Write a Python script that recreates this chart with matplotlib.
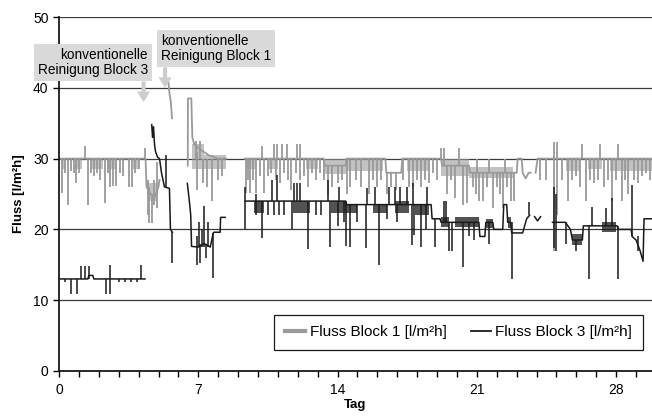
import matplotlib.pyplot as plt
import numpy as np
from matplotlib.ticker import MultipleLocator

plt.rcParams['font.family'] = ['Liberation Sans', 'DejaVu Sans']
plt.rcParams['font.size'] = 10

nan = np.nan

# Fluss Block 1 (grau): Grundverlauf, Ausreisser (Tag, von, bis), dichte Bereiche (von, bis, unten, oben)
b1_day = [0, 4.35, 4.4, 4.6, 4.8, 5.0, 5.05, nan, 5.5, 5.56, 5.62, 5.68, nan,
          6.47, 6.48, 6.65, 6.7, 6.8, 7.0, 7.5, 8.0, 8.4, nan,
          9.35, 13.3, 13.35, 14.4, 14.45, 16.4, 16.45, 17.2, 17.25, 19.2, 19.25, 20.6, 20.65,
          23.0, 23.05, 23.25, 23.3, 23.45, 23.6, 23.7, nan, 23.95, 24.05, 29.8]
b1_val = [30, 30, 26, 25, 24.5, 26, 27, nan, 40.8, 39, 38, 35.7, nan,
          29, 38.5, 38.5, 33, 32, 31.5, 30.5, 30, 30, nan,
          30, 30, 29, 29, 30, 30, 28, 28, 30, 30, 29, 29, 28,
          28, 30, 30, 28, 27.2, 28, 28, nan, 28, 30, 30]
b1_spikes = [(0.13, 25.1, 30), (0.3, 28, 30), (0.47, 23.4, 30), (0.6, 28.2, 30), (0.75, 28, 30),
             (0.85, 26.5, 30), (1.0, 28, 30), (1.3, 30, 31.8), (1.47, 23.4, 30), (1.6, 28, 30),
             (1.75, 27.5, 30), (1.9, 28, 30), (2.05, 27, 30), (2.3, 23.7, 30), (2.45, 28, 30),
             (2.55, 26, 30), (2.7, 26.1, 30), (2.85, 26.2, 30), (3.05, 28, 30), (3.2, 27.5, 30),
             (3.5, 26, 30), (3.65, 26, 30), (3.8, 28, 30), (4.0, 28.5, 30), (4.32, 30, 31.5),
             (4.45, 22, 27), (4.5, 20.9, 26), (4.65, 20.9, 25), (4.75, 23.5, 27), (4.9, 23, 29.5),
             (6.9, 30, 32.5), (6.95, 25.6, 31), (7.1, 30, 32.5), (7.25, 26.5, 30), (7.45, 26, 30),
             (7.7, 24, 30), (8.0, 27, 30), (8.2, 27.5, 30),
             (9.4, 25.1, 30), (9.5, 27, 30), (9.6, 25.1, 30), (9.75, 27, 30), (9.9, 25.1, 30),
             (10.1, 27.5, 30), (10.2, 30, 31.8), (10.3, 25.2, 30), (10.5, 27.5, 30), (10.65, 28, 30),
             (10.8, 30, 32), (10.9, 27, 30), (10.94, 30, 32), (11.1, 26.5, 30), (11.2, 30, 32),
             (11.3, 28, 30), (11.45, 30, 32), (11.5, 27, 30), (11.65, 25.5, 30), (11.9, 28, 30),
             (11.95, 30, 32), (12.1, 27, 32), (12.3, 27.5, 30), (12.5, 26, 30), (12.7, 28, 30),
             (12.9, 27, 30), (13.1, 28, 30), (13.3, 27, 30), (13.5, 24.8, 29), (13.7, 26, 29),
             (14.0, 26.5, 29), (14.2, 27, 29),
             (14.45, 25, 30), (14.6, 26, 30), (14.9, 27, 30), (15.2, 26, 30), (15.6, 25, 30),
             (15.8, 27, 30), (16.0, 26, 30), (16.2, 27, 30), (16.5, 25, 28), (16.7, 26, 28),
             (16.95, 25.5, 28), (17.3, 27, 30), (17.6, 26, 30), (17.8, 26, 30), (18.0, 27, 30),
             (18.2, 26, 30), (18.4, 27, 30), (18.6, 26.5, 30), (18.8, 28, 30), (19.0, 27, 30),
             (19.2, 30, 31.5), (19.35, 29, 31.5),
             (19.5, 25, 29), (19.7, 27, 29), (19.9, 24.5, 29), (20.1, 29, 31.5), (20.3, 23.5, 29),
             (20.5, 23.7, 29), (20.8, 26, 28), (20.95, 25, 28), (21.0, 28, 30), (21.1, 24, 28),
             (21.3, 24, 28), (21.5, 26, 28), (21.6, 28, 30), (21.8, 23, 28), (22.0, 26, 28),
             (22.15, 25, 28), (22.3, 23, 28), (22.4, 28, 30), (22.5, 26, 28), (22.7, 24, 28),
             (22.85, 24, 28),
             (24.15, 27, 30), (24.45, 27, 30), (24.9, 17, 32.3), (25.02, 22, 32.3), (25.3, 27, 30),
             (25.6, 24, 30), (25.8, 27, 30), (26.0, 27.5, 30), (26.2, 26, 30), (26.3, 30, 32),
             (26.5, 24, 30), (26.7, 27, 30), (26.9, 26.5, 30), (27.1, 27, 30), (27.2, 30, 32),
             (27.4, 26, 30), (27.6, 27, 30), (27.8, 24, 30), (28.0, 27, 30), (28.1, 30, 32),
             (28.3, 24, 30), (28.45, 27, 30), (28.6, 25, 30), (28.9, 27, 30), (29.1, 26.5, 30),
             (29.3, 27.5, 30), (29.5, 28, 30), (29.7, 27, 30)]
b1_bands = [(0.1, 0.35, 28.5, 30), (0.8, 1.15, 28.5, 30), (1.6, 2.2, 28.5, 30), (2.4, 2.9, 28.5, 30),
            (3.7, 4.0, 28.5, 30), (4.4, 4.9, 24, 26.5), (6.7, 7.3, 28.5, 32), (7.3, 8.4, 28.5, 30.5),
            (9.4, 9.9, 28.5, 30), (10.5, 11.0, 28.5, 30), (12.4, 13.0, 28.5, 30), (13.3, 14.4, 27.8, 30),
            (14.4, 16.3, 28.3, 30), (17.5, 18.6, 28.3, 30), (19.2, 20.6, 27.5, 30), (20.6, 22.8, 27.3, 28.8),
            (25.5, 26.2, 28.3, 30), (26.6, 27.3, 28.5, 30), (27.7, 29.8, 28.3, 30)]

# Fluss Block 3 (schwarz)
b3_day = [0, 1.45, 1.5, 1.7, 1.75, 4.32, nan,
          4.66, 4.7, 4.75, 4.8, 4.85, 4.95, 5.05, 5.15, 5.3, 5.55, 5.6, 5.7, nan,
          6.45, 6.55, 6.62, 6.66, 7.0, 7.3, 7.6, 7.75, 7.8, 8.1, 8.12, 8.35, nan,
          9.35, 14.4, 14.45, 18.7, 18.75, 19.15, 19.2, 21.1, 21.15, 21.4, 21.45, 21.8, 21.85,
          22.3, 22.35, 22.5, 22.55, 22.7, 22.75, 23.3, 23.5, 23.65, nan, 23.9, 24.05, 24.2, nan,
          24.8, 25.4, 25.45, 25.7, 25.8, 26.3, 26.35, 27.2, 27.3, 28.05, 28.1, 28.75, 28.8,
          29.0, 29.2, 29.35, 29.4, 29.8]
b3_val = [13, 13, 13.5, 13.5, 13, 13, nan,
          34.8, 33, 34.5, 32, 31, 30.2, 30, 28, 26, 25.8, 20, 19.6, nan,
          26.5, 24, 22, 17.6, 17.5, 18, 17.5, 19.5, 19.6, 19.6, 21.7, 21.7, nan,
          24, 24, 23.5, 23.5, 21.5, 21.5, 21, 21, 19, 19, 21, 21, 20,
          20, 23.5, 23.5, 21, 21, 19.5, 19.5, 21.5, 22, nan, 21.8, 21.2, 21.8, nan,
          21, 21, 21, 20, 18.5, 18.5, 20.5, 20.5, 20.5, 20.5, 20, 20, 19,
          18.5, 17, 15.5, 21.5, 21.5]
b3_spikes = [(0.3, 12.5, 13), (0.59, 10.9, 13), (0.88, 10.9, 13), (1.1, 13, 14.8), (1.3, 13, 14.8),
             (1.5, 13, 14.8), (2.36, 10.9, 13), (2.55, 10.9, 15), (3.0, 12.5, 13), (3.3, 12.6, 13),
             (3.6, 12.5, 13), (3.9, 12.6, 13), (4.1, 13, 15),
             (5.4, 26, 30.5), (5.68, 15.3, 19.6),
             (6.95, 14.9, 19), (7.05, 17.5, 21), (7.1, 15.2, 18), (7.2, 17.5, 20), (7.3, 17.5, 23.3),
             (7.4, 16, 18), (7.5, 17.5, 21), (7.75, 13.1, 19.5),
             (9.35, 20, 26), (9.9, 22, 25), (10.2, 18.8, 24), (10.5, 22, 24), (10.7, 24, 27),
             (10.8, 22, 24), (10.94, 24, 27.7), (11.05, 22, 24), (11.3, 22, 24), (11.7, 20, 24),
             (11.8, 24, 26.5), (11.95, 24, 26.5), (12.1, 24, 26.5), (12.5, 17.3, 24), (12.9, 22, 24),
             (13.15, 22, 24), (13.5, 24, 27), (13.6, 17.5, 24), (14.0, 20.5, 24), (14.05, 24, 26),
             (14.3, 21, 24),
             (14.4, 17.6, 24), (14.6, 17.5, 23.5), (15.0, 21, 23.5), (15.45, 17.4, 23.5),
             (15.5, 23.5, 25.8), (15.9, 23.5, 26), (16.07, 14.9, 23.5), (16.5, 21.5, 23.5),
             (16.6, 23.5, 26), (16.9, 23.5, 26), (17.0, 21, 23.5), (17.15, 23.5, 26), (17.5, 23.5, 26),
             (17.75, 17.8, 23.5), (17.8, 23.5, 26.5), (17.85, 19.2, 23.5), (18.2, 17.5, 23.5),
             (18.45, 20, 23.5), (18.5, 23.5, 26), (18.9, 17.5, 21.5),
             (19.35, 21, 24), (19.45, 21, 24), (19.6, 17, 21), (19.75, 17, 21), (20.3, 14.7, 21),
             (20.6, 19, 21), (20.85, 18.5, 21), (21.6, 18, 21), (22.75, 13, 21), (23.63, 22, 23.9),
             (24.9, 17.4, 26), (25.0, 17, 25), (25.5, 18, 21), (26.0, 17, 18.5), (26.62, 13, 20.5),
             (26.8, 20.5, 23.2), (27.5, 20.5, 23), (27.8, 20.5, 24.5), (28.07, 13, 20.5),
             (28.8, 19, 26.3), (29.1, 17, 19)]
b3_bands = [(9.8, 10.3, 22.3, 24), (11.75, 12.6, 22.3, 24), (13.65, 14.4, 22.3, 24), (14.4, 15.0, 22.3, 23.5),
            (15.8, 16.5, 22.3, 23.5), (16.9, 17.6, 22.3, 24), (17.9, 18.6, 22, 23.5), (19.2, 19.6, 20.3, 21.8),
            (19.9, 21.1, 20.3, 21.8), (21.45, 21.8, 20.2, 21.5), (22.55, 22.7, 20.2, 21.8), (25.8, 26.3, 17.8, 19.3),
            (27.3, 28.0, 19.7, 21)]

labels = ['Fluss Block 1 [l/m²h]', 'Fluss Block 3 [l/m²h]']
gray = '#9a9a9a'
black = '#1a1a1a'


def draw_series(ax, days, vals, spikes, bands, color, lw, z, label, band_alpha):
    line, = ax.plot(days, vals, color=color, lw=lw, zorder=z, label=label)
    d, lo, hi = zip(*spikes)
    ax.vlines(d, lo, hi, color=color, lw=lw, zorder=z)
    for s, e, lo, hi in bands:
        ax.fill_between([s, e], [lo, lo], [hi, hi], color=color, lw=0, zorder=z,
                        alpha=band_alpha)
    return line


fig = plt.figure(figsize=(6.52, 4.19), dpi=100)
ax = fig.add_axes([0.0905, 0.1146, 0.9095, 0.8448])

l1 = draw_series(ax, b1_day, b1_val, b1_spikes, b1_bands, gray, 1.3, 2, labels[0], 0.6)
l3 = draw_series(ax, b3_day, b3_val, b3_spikes, b3_bands, black, 1.1, 3, labels[1], 0.75)

ax.set_xlim(0, 29.8)
ax.set_ylim(0, 50)
ax.xaxis.set_major_locator(MultipleLocator(7))
ax.xaxis.set_minor_locator(MultipleLocator(1))
ax.yaxis.set_major_locator(MultipleLocator(10))
ax.tick_params(axis='both', which='both', direction='out', length=4, width=1, labelsize=10)
ax.tick_params(axis='x', pad=5)
ax.yaxis.grid(True, color='#3a3a3a', lw=0.9)
ax.set_axisbelow(True)
for side in ['top', 'right']:
    ax.spines[side].set_visible(False)
for side in ['left', 'bottom']:
    ax.spines[side].set_linewidth(1.3)
    ax.spines[side].set_color('#1a1a1a')

ax.set_xlabel('Tag', fontweight='bold', fontsize=9.5, labelpad=1)
ax.set_ylabel('Fluss [l/m²h]', fontweight='bold', fontsize=9.5, labelpad=6)

# Hinweise auf die Reinigungen
box = dict(boxstyle='square,pad=0.3', fc='#dadada', ec='none')
ax.text(4.47, 43.6, 'konventionelle\nReinigung Block 3', ha='right', va='center',
        fontsize=9.8, bbox=box, linespacing=1.1, zorder=5)
ax.text(5.13, 45.6, 'konventionelle\nReinigung Block 1', ha='left', va='center',
        fontsize=9.8, bbox=box, linespacing=1.1, zorder=5)
arrow = dict(arrowstyle='simple,head_length=0.75,head_width=0.95,tail_width=0.3',
             fc='#cdcdcd', ec='none', shrinkA=0, shrinkB=0)
ax.annotate('', xy=(4.25, 38.0), xytext=(4.25, 40.9), arrowprops=arrow, zorder=5)
ax.annotate('', xy=(5.33, 40.0), xytext=(5.33, 42.9), arrowprops=arrow, zorder=5)

leg = ax.legend(handles=[l1, l3], loc='center', bbox_to_anchor=(0.674, 0.109), ncol=2,
                frameon=True, fancybox=False, edgecolor='#1a1a1a', framealpha=1,
                fontsize=11, handlelength=1.3, handletextpad=0.3, columnspacing=1.6,
                borderpad=0.7)
leg.get_frame().set_linewidth(0.9)
leg.get_lines()[0].set_linewidth(3)
leg.get_lines()[1].set_linewidth(1.3)

fig.savefig('out.png', dpi=100)
